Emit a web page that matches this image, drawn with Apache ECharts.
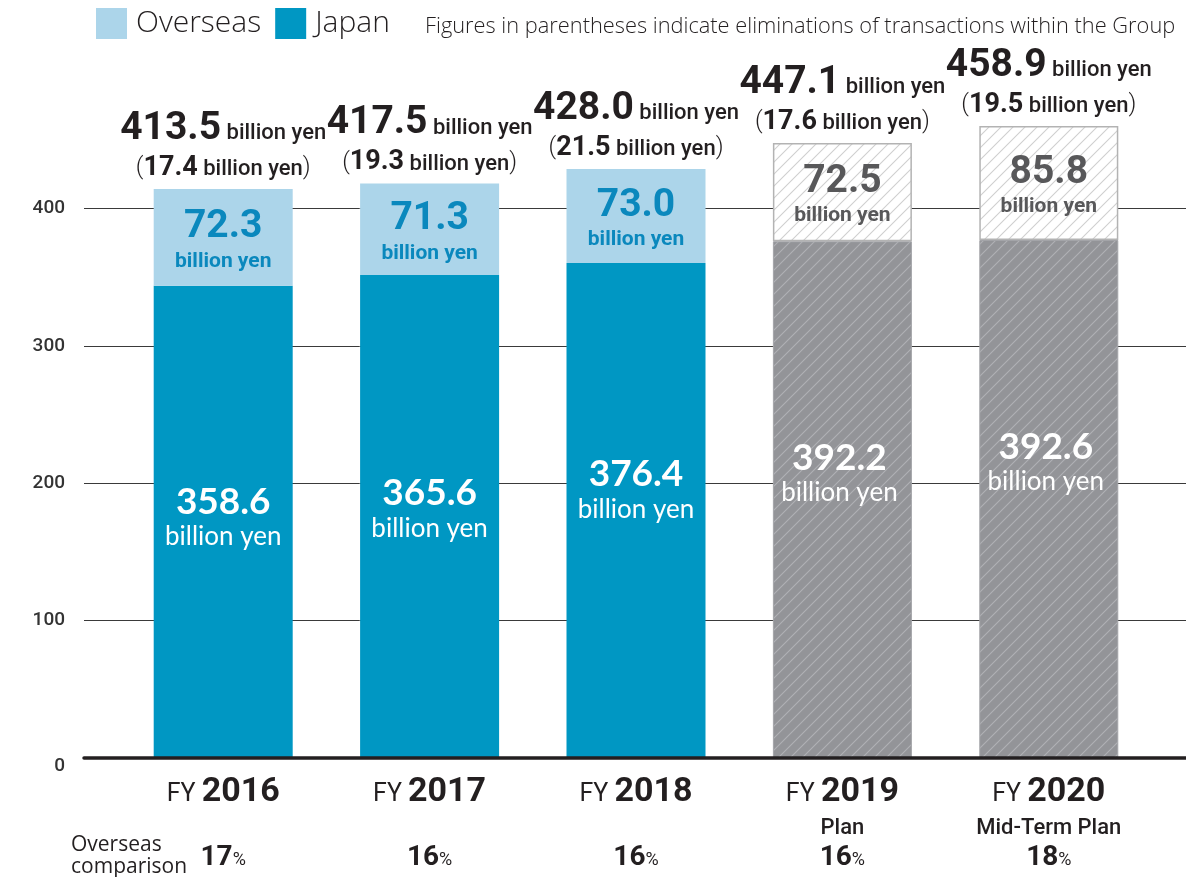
<!DOCTYPE html>
<html>
<head>
<meta charset="utf-8">
<title>Net sales by region</title>
<script src="https://cdn.jsdelivr.net/npm/echarts@6/dist/echarts.min.js"></script>
<style>
  html, body { margin: 0; padding: 0; background: #fff; }
  #main { width: 1186px; height: 877px; }
</style>
</head>
<body>
<div id="main"></div>
<script>
// figures (billion yen)
var categories = ['2016', '2017', '2018', '2019', '2020'];
var planNotes = ['', '', '', 'Plan', 'Mid-Term Plan'];
var isPlan = [false, false, false, true, true];
var japanSales = [358.6, 365.6, 376.4, 392.2, 392.6];
var overseasSales = [72.3, 71.3, 73.0, 72.5, 85.8];
var totalSales = [413.5, 417.5, 428.0, 447.1, 458.9];
var eliminations = [17.4, 19.3, 21.5, 17.6, 19.5];
var overseasShare = [17, 16, 16, 16, 18];
// bar heights as drawn in the figure
var japanBar = [343.7, 351.5, 360.3, 376.1, 377.0];
var overseasBar = [70.4, 66.6, 68.4, 71.5, 83.0];
var totalLabelBase = [0, 0, 0, 0, 0];

// label nudges (px), style only
var japanLabelLift = [-5, -8, -21, -27, -37];

var DIN = 'Roboto, "DejaVu Sans", sans-serif';
var ROUND = 'Lato, "Noto Sans", sans-serif';
var LIGHT = '"Open Sans", "Noto Sans", sans-serif';
var INK = '#231f20';

function hatch(bg, line) {
  var c = document.createElement('canvas');
  c.width = 12; c.height = 12;
  var g = c.getContext('2d');
  g.fillStyle = bg;
  g.fillRect(0, 0, 12, 12);
  g.strokeStyle = line;
  g.lineWidth = 1.1;
  g.beginPath();
  g.moveTo(-1, 13); g.lineTo(13, -1);
  g.moveTo(-7, 7); g.lineTo(7, -7);
  g.moveTo(5, 19); g.lineTo(19, 5);
  g.stroke();
  return { image: c, repeat: 'repeat' };
}
var grayHatch = hatch('#939498', '#b0b1b5');
var whiteHatch = hatch('#ffffff', '#cfcfcf');

var chart = echarts.init(document.getElementById('main'));

chart.setOption({
  animation: false,
  title: {
    text: 'Figures in parentheses indicate eliminations of transactions within the Group',
    left: 420,
    top: 11,
    textStyle: { fontFamily: LIGHT, fontSize: 21.8, fontWeight: 300, color: INK }
  },
  legend: {
    data: ['Overseas', 'Japan'],
    left: 91,
    top: 3,
    icon: 'rect',
    itemWidth: 31,
    itemHeight: 31,
    itemGap: 14,
    textStyle: { fontFamily: LIGHT, fontSize: 30, fontWeight: 300, color: INK, padding: [0, 0, 0, 4] }
  },
  graphic: [{
    type: 'text',
    left: 71,
    top: 834,
    style: {
      text: 'Overseas\ncomparison',
      font: '21px ' + LIGHT,
      lineHeight: 22,
      fill: INK
    }
  }],
  grid: [
    { left: 84, right: 0, top: 71, bottom: 119 },
    { left: 120, right: 34, top: 71, bottom: 119 }
  ],
  xAxis: [{
    gridIndex: 0,
    type: 'category',
    data: [''],
    z: 10,
    axisLine: { lineStyle: { color: INK, width: 3.5 } },
    axisTick: { show: false },
    axisLabel: { show: false }
  }, {
    gridIndex: 1,
    type: 'category',
    data: categories,
    axisLine: { show: false },
    axisTick: { show: false },
    axisLabel: {
      margin: 14,
      formatter: function (val, idx) {
        return '{fy|FY }{yr|' + val + '}\n{sub|' + (planNotes[idx] || ' ') + '}\n{pct|' +
          overseasShare[idx] + '}{pc|%}';
      },
      rich: {
        fy: { fontFamily: DIN, fontSize: 25, color: INK, lineHeight: 40, padding: [6, 0, 0, 0] },
        yr: { fontFamily: DIN, fontSize: 34, fontWeight: 'bold', color: INK, lineHeight: 40 },
        sub: { fontFamily: DIN, fontSize: 22, fontWeight: 500, color: INK, lineHeight: 32 },
        pct: { fontFamily: DIN, fontSize: 28, fontWeight: 'bold', color: INK, lineHeight: 27 },
        pc: { fontFamily: DIN, fontSize: 18, color: INK, lineHeight: 27, padding: [5, 0, 0, 0] }
      }
    }
  }],
  yAxis: [{
    gridIndex: 0,
    type: 'value',
    min: 0,
    max: 500,
    interval: 100,
    axisLine: { show: false },
    axisTick: { show: false },
    splitLine: { showMinLine: false, showMaxLine: false, lineStyle: { color: '#3a3a3a', width: 1 } },
    axisLabel: {
      showMaxLabel: false,
      margin: 19,
      formatter: function (v) { return v === 0 ? '{z|0}' : '{n|' + v + '}'; },
      rich: {
        n: { fontFamily: DIN, fontSize: 19, fontWeight: 500, color: '#333' },
        z: { fontFamily: DIN, fontSize: 19, fontWeight: 500, color: '#333', padding: [16, 0, 0, 0] }
      }
    }
  }, {
    gridIndex: 1,
    type: 'value',
    min: 0,
    max: 500,
    interval: 100,
    show: false,
    splitLine: { show: false }
  }],
  series: [{
    name: 'Japan',
    type: 'bar',
    stack: 'sales',
    xAxisIndex: 1,
    yAxisIndex: 1,
    barWidth: 139,
    itemStyle: { color: '#0097c3' },
    data: japanBar.map(function (v, i) {
      var item = { value: v, label: { offset: [isPlan[i] ? -3 : 0, japanLabelLift[i]] } };
      if (isPlan[i]) item.itemStyle = { color: grayHatch, borderColor: '#a3a4a8', borderWidth: 1 };
      return item;
    }),
    label: {
      show: true,
      position: 'inside',
      formatter: function (p) {
        return '{num|' + japanSales[p.dataIndex].toFixed(1) + '}\n{unit|billion yen}';
      },
      rich: {
        num: { fontFamily: ROUND, fontSize: 37, fontWeight: 'bold', color: '#fff', lineHeight: 40, align: 'center' },
        unit: { fontFamily: ROUND, fontSize: 26, color: '#fff', lineHeight: 30, align: 'center' }
      }
    }
  }, {
    name: 'Overseas',
    type: 'bar',
    stack: 'sales',
    xAxisIndex: 1,
    yAxisIndex: 1,
    barWidth: 139,
    itemStyle: { color: '#acd5ea' },
    data: overseasBar.map(function (v, i) {
      if (!isPlan[i]) return v;
      return { value: v, itemStyle: { color: whiteHatch, borderColor: '#b3b3b3', borderWidth: 1.5 } };
    }),
    label: {
      show: true,
      position: 'inside',
      offset: [0, 4],
      formatter: function (p) {
        var k = isPlan[p.dataIndex] ? 'G' : 'B';
        return '{num' + k + '|' + overseasSales[p.dataIndex].toFixed(1) + '}\n{unit' + k + '|billion yen}';
      },
      rich: {
        numB: { fontFamily: DIN, fontSize: 39, fontWeight: 'bold', color: '#0a88bd', lineHeight: 40, align: 'center' },
        unitB: { fontFamily: DIN, fontSize: 21, fontWeight: 'bold', color: '#0a88bd', lineHeight: 28, align: 'center' },
        numG: { fontFamily: DIN, fontSize: 39, fontWeight: 'bold', color: '#58585a', lineHeight: 40, align: 'center' },
        unitG: { fontFamily: DIN, fontSize: 21, fontWeight: 'bold', color: '#58585a', lineHeight: 28, align: 'center' }
      }
    }
  }, {
    name: 'Total',
    type: 'bar',
    stack: 'sales',
    xAxisIndex: 1,
    yAxisIndex: 1,
    barWidth: 139,
    itemStyle: { color: 'rgba(0,0,0,0)' },
    data: totalLabelBase,
    label: {
      show: true,
      position: 'top',
      distance: 5,
      formatter: function (p) {
        var i = p.dataIndex;
        return '{big|' + totalSales[i].toFixed(1) + '}{unit| billion yen}\n{par|(}{mid|' +
          eliminations[i].toFixed(1) + '}{unit2| billion yen}{par|)}';
      },
      rich: {
        big: { fontFamily: DIN, fontSize: 39, fontWeight: 'bold', color: INK, lineHeight: 46 },
        unit: { fontFamily: DIN, fontSize: 22, fontWeight: 500, color: INK, lineHeight: 46, padding: [9, 0, 0, 0] },
        par: { fontFamily: DIN, fontSize: 24, fontWeight: 300, color: INK, lineHeight: 32 },
        mid: { fontFamily: DIN, fontSize: 27, fontWeight: 'bold', color: INK, lineHeight: 32 },
        unit2: { fontFamily: DIN, fontSize: 22, fontWeight: 500, color: INK, lineHeight: 32, padding: [3, 0, 0, 0] }
      }
    }
  }]
});
</script>
</body>
</html>
